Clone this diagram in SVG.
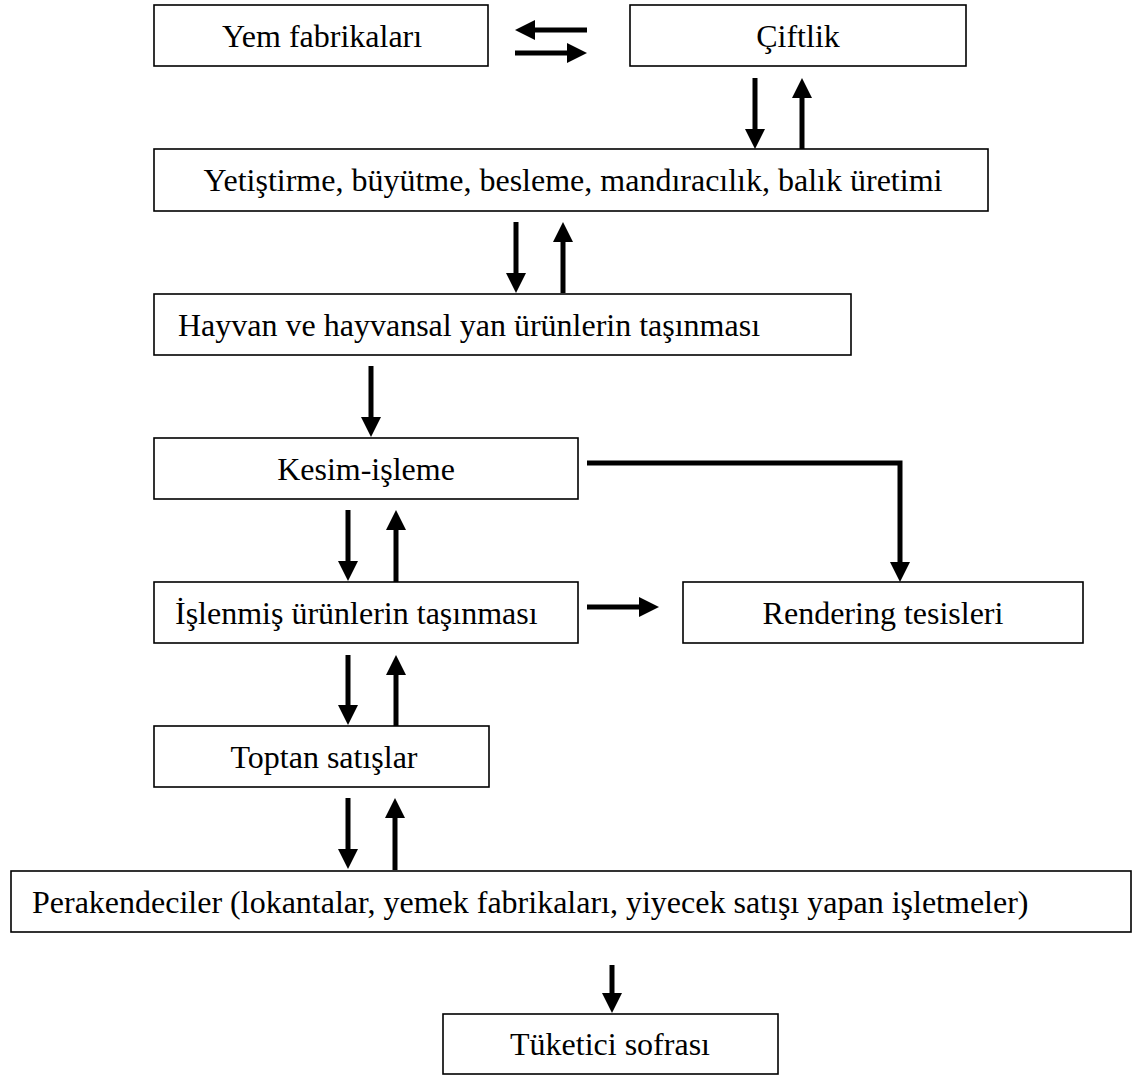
<svg xmlns="http://www.w3.org/2000/svg" width="1132" height="1075" viewBox="0 0 1132 1075">
<style>
.box{fill:#fff;stroke:#000;stroke-width:1.6}
.t{font-family:"Liberation Serif","Times New Roman",serif;font-size:32px;fill:#000}
.c{text-anchor:middle}
.s{text-anchor:start}
.a{fill:none;stroke:#000;stroke-width:5;marker-end:url(#ah)}
</style>
<defs>
<marker id="ah" markerUnits="userSpaceOnUse" markerWidth="20" markerHeight="20" refX="0" refY="10" orient="auto" viewBox="0 0 20 20">
<path d="M0,0 L20,10 L0,20 z" fill="#000"/>
</marker>
</defs>
<rect width="1132" height="1075" fill="#fff"/>
<g id="yem"><rect class="box" x="154" y="5" width="334" height="61"/><text class="t c" x="322" y="47">Yem fabrikaları</text></g>
<g id="ciftlik"><rect class="box" x="630" y="5" width="336" height="61"/><text class="t c" x="798" y="47">Çiftlik</text></g>
<g id="yetistirme"><rect class="box" x="154" y="149" width="834" height="62"/><text class="t c" x="573" y="191">Yetiştirme, büyütme, besleme, mandıracılık, balık üretimi</text></g>
<g id="hayvan"><rect class="box" x="154" y="294" width="697" height="61"/><text class="t s" x="178" y="336">Hayvan ve hayvansal yan ürünlerin taşınması</text></g>
<g id="kesim"><rect class="box" x="154" y="438" width="424" height="61"/><text class="t c" x="366" y="480">Kesim-işleme</text></g>
<g id="islenmis"><rect class="box" x="154" y="582" width="424" height="61"/><text class="t s" x="175" y="624">İşlenmiş ürünlerin taşınması</text></g>
<g id="rendering"><rect class="box" x="683" y="582" width="400" height="61"/><text class="t c" x="883" y="624">Rendering tesisleri</text></g>
<g id="toptan"><rect class="box" x="154" y="726" width="335" height="61"/><text class="t c" x="324" y="768">Toptan satışlar</text></g>
<g id="perakende"><rect class="box" x="11" y="871" width="1120" height="61"/><text class="t s" x="32" y="913">Perakendeciler (lokantalar, yemek fabrikaları, yiyecek satışı yapan işletmeler)</text></g>
<g id="tuketici"><rect class="box" x="443" y="1014" width="335" height="60"/><text class="t c" x="610" y="1055">Tüketici sofrası</text></g>
<g id="connectors">
<line class="a" x1="587" y1="30" x2="535" y2="30"/>
<line class="a" x1="515" y1="53" x2="567" y2="53"/>
<line class="a" x1="755" y1="78" x2="755" y2="129"/>
<line class="a" x1="802" y1="149" x2="802" y2="98"/>
<line class="a" x1="516" y1="222" x2="516" y2="273"/>
<line class="a" x1="563" y1="293" x2="563" y2="242"/>
<line class="a" x1="371" y1="366" x2="371" y2="417"/>
<path class="a" d="M587,463 H900 V562"/>
<line class="a" x1="348" y1="510" x2="348" y2="561"/>
<line class="a" x1="396" y1="582" x2="396" y2="530"/>
<line class="a" x1="587" y1="607" x2="639" y2="607"/>
<line class="a" x1="348" y1="655" x2="348" y2="705"/>
<line class="a" x1="396" y1="726" x2="396" y2="675"/>
<line class="a" x1="348" y1="798" x2="348" y2="849"/>
<line class="a" x1="395" y1="870" x2="395" y2="818"/>
<line class="a" x1="612" y1="965" x2="612" y2="993"/>
</g>
</svg>
